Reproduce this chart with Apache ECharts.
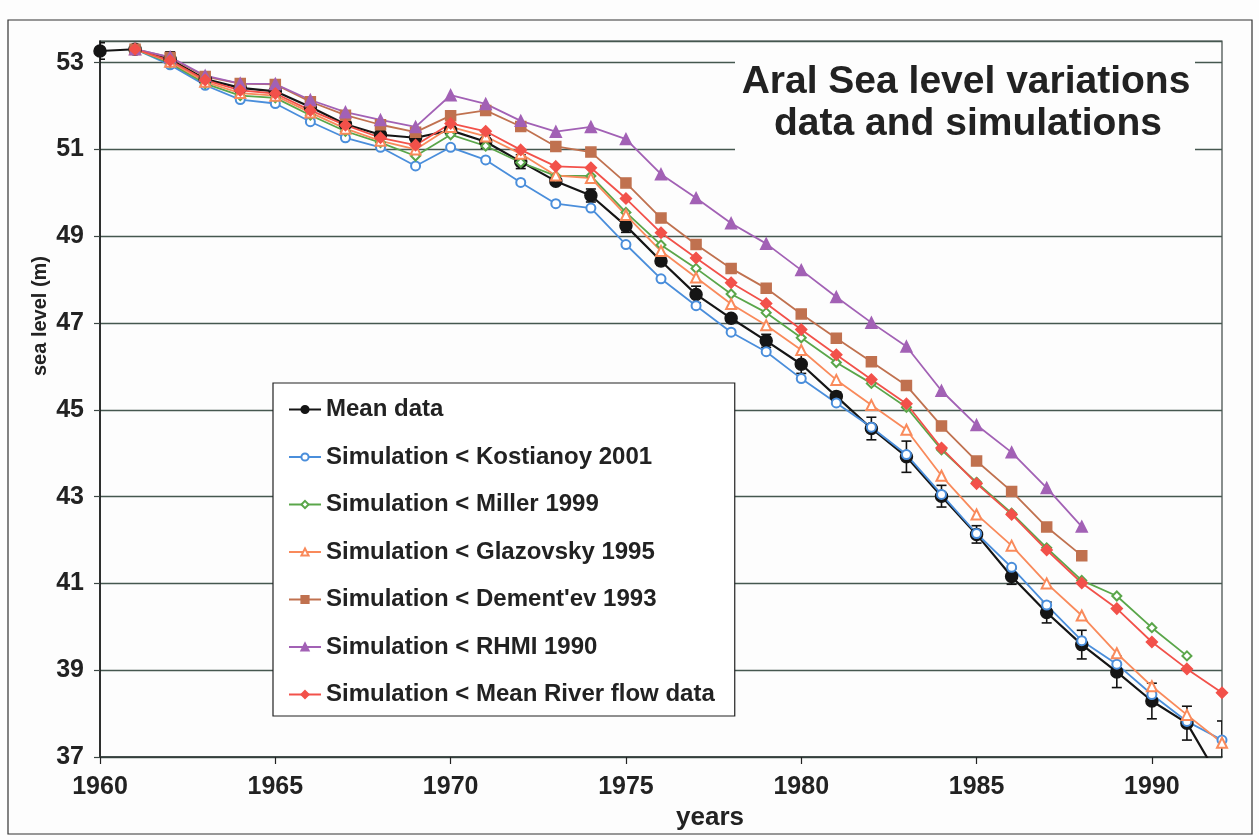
<!DOCTYPE html>
<html><head><meta charset="utf-8">
<script src="https://cdn.jsdelivr.net/npm/echarts@6/dist/echarts.min.js"></script>
<style>html,body{margin:0;padding:0;background:#fff}#c{width:1259px;height:840px}</style>
</head><body><div id="c"></div>
<script>
const years = [1960,1961,1962,1963,1964,1965,1966,1967,1968,1969,1970,1971,1972,1973,1974,1975,1976,1977,1978,1979,1980,1981,1982,1983,1984,1985,1986,1987,1988,1989,1990,1991,1992];
const meanData = [53.27,53.31,53.08,52.62,52.42,52.34,51.98,51.58,51.34,51.27,51.44,51.18,50.72,50.27,49.94,49.24,48.43,47.66,47.11,46.59,46.05,45.31,44.57,43.92,43.01,42.13,41.16,40.33,39.59,38.96,38.29,37.78,36.4];
const meanErr = [0.19,0.05,0.17,0.06,0.05,0.05,0.05,0.05,0.05,0.12,0.06,0.15,0.16,0.06,0.15,0.15,0.1,0.19,0.08,0.15,0.21,0.1,0.26,0.36,0.25,0.2,0.18,0.24,0.33,0.36,0.41,0.39,1.43];
const kostianoy = [null,53.31,52.95,52.48,52.15,52.06,51.64,51.27,51.05,50.62,51.05,50.76,50.24,49.75,49.65,48.81,48.02,47.4,46.79,46.34,45.72,45.16,44.6,43.97,43.05,42.15,41.37,40.5,39.68,39.14,38.44,37.82,37.39];
const miller = [null,53.31,52.99,52.52,52.24,52.19,51.79,51.42,51.16,50.85,51.34,51.08,50.7,50.39,50.39,49.55,48.8,48.26,47.67,47.24,46.66,46.09,45.61,45.06,44.08,43.33,42.62,41.82,41.07,40.71,39.98,39.33,null];
const glazovsky = [null,53.31,53.02,52.56,52.3,52.24,51.85,51.48,51.2,51.0,51.52,51.3,50.9,50.4,50.34,49.49,48.66,48.05,47.44,46.95,46.38,45.69,45.11,44.54,43.48,42.59,41.87,41.0,40.26,39.39,38.63,37.97,37.33];
const dementev = [null,53.31,53.12,52.68,52.52,52.5,52.1,51.79,51.57,51.4,51.78,51.9,51.53,51.07,50.94,50.23,49.42,48.81,48.26,47.8,47.21,46.65,46.11,45.56,44.63,43.82,43.12,42.3,41.64,null,null,null,null];
const rhmi = [null,53.31,53.13,52.7,52.52,52.51,52.14,51.86,51.68,51.52,52.25,52.05,51.66,51.41,51.52,51.24,50.43,49.88,49.3,48.83,48.22,47.6,47.01,46.46,45.44,44.65,44.02,43.2,42.31,null,null,null,null];
const riverFlow = [null,53.31,53.05,52.6,52.36,52.29,51.9,51.56,51.27,51.1,51.6,51.42,50.99,50.61,50.58,49.87,49.08,48.5,47.93,47.45,46.85,46.27,45.7,45.14,44.12,43.3,42.59,41.77,41.01,40.42,39.65,39.03,38.48];
const seriesNames = ['Mean data','Simulation < Kostianoy 2001','Simulation < Miller 1999','Simulation < Glazovsky 1995',"Simulation < Dement'ev 1993",'Simulation < RHMI 1990','Simulation < Mean River flow data'];
const titleLines = ['Aral Sea level variations','data and simulations'];
const xName = 'years';
const yName = 'sea level (m)';

function pairs(arr){ const out=[]; years.forEach((y,i)=>{ if(arr[i]!==null) out.push([y,arr[i]]); }); return out; }
const errData = years.map((y,i)=>[y, meanData[i]-meanErr[i], meanData[i]+meanErr[i]]);

const FONT = 'Liberation Sans, Arial, sans-serif';
const chart = echarts.init(document.getElementById('c'), null, {renderer:'canvas'});

function lineSeries(name, arr, color, symbol, size, width, extra){
  return Object.assign({
    name, type:'line', data:pairs(arr), symbol, symbolSize:size,
    lineStyle:{color, width}, itemStyle:{color, borderColor:color, borderWidth:1.5},
    emphasis:{disabled:true}, animation:false, clip:true
  }, extra||{});
}

const option = {
  backgroundColor:'#fdfdfd',
  animation:false,
  grid:{left:100, right:37, top:41, bottom:83, show:true, borderColor:'#3c4744', borderWidth:1.2, backgroundColor:'transparent'},
  xAxis:{type:'value', min:1960, max:1992, interval:5,
    axisLine:{show:true, onZero:false, lineStyle:{color:'#2f3a37', width:1.5}},
    axisTick:{show:true, length:7, lineStyle:{color:'#222', width:1.2}},
    axisLabel:{color:'#222', fontFamily:FONT, fontWeight:'bold', fontSize:25, margin:18, showMaxLabel:false,
      formatter:function(v){ return String(v); }},
    splitLine:{show:false}},
  yAxis:{type:'value', min:37, max:53.5, interval:2,
    axisLine:{show:true, onZero:false, lineStyle:{color:'#111', width:1.5}},
    axisTick:{show:true, length:6, lineStyle:{color:'#3c4744', width:1.2}},
    axisLabel:{color:'#222', fontFamily:FONT, fontWeight:'bold', fontSize:25, margin:16, showMaxLabel:false,
      formatter:function(v){ return String(v); }},
    splitLine:{show:true, lineStyle:{color:'#45574f', width:1.3}}},
  legend:{data:seriesNames, orient:'vertical', left:273, top:383,
    backgroundColor:'#ffffff', borderColor:'#222', borderWidth:1.2,
    padding:[14,20,9,15], itemGap:22.5, itemWidth:32, itemHeight:9,
    textStyle:{fontFamily:FONT, fontWeight:'bold', fontSize:24, lineHeight:25, color:'#222'},
    selectedMode:false},
  graphic:[
    {type:'rect', z:1, shape:{x:735, y:43, width:460, height:150}, style:{fill:'#fdfdfd'}},
    {type:'text', z:3, x:966, y:82, style:{text:titleLines[0], font:'bold 39px '+FONT, fill:'#222', textAlign:'center', textVerticalAlign:'middle'}},
    {type:'text', z:3, x:968, y:124, style:{text:titleLines[1], font:'bold 39px '+FONT, fill:'#222', textAlign:'center', textVerticalAlign:'middle'}},
    {type:'text', z:3, x:710, y:818, style:{text:xName, font:'bold 26px '+FONT, fill:'#222', textAlign:'center', textVerticalAlign:'middle'}},
    {type:'text', z:3, x:40, y:316, rotation:Math.PI/2, style:{text:yName, font:'bold 20px '+FONT, fill:'#222', textAlign:'center', textVerticalAlign:'middle'}},
    {type:'rect', z:0, shape:{x:8, y:20, width:1244, height:814}, style:{fill:'none', stroke:'#333', lineWidth:1.2}}
  ],
  series:[
    {type:'custom', name:'err', data:errData, clip:true, z:2, animation:false,
      encode:{x:0, y:[1,2]},
      renderItem:function(params, api){
        const x=api.value(0), lo=api.value(1), hi=api.value(2);
        const t=api.coord([x,hi]), b=api.coord([x,lo]); const w=5;
        const st={stroke:'#111', lineWidth:1.6};
        return {type:'group', children:[
          {type:'line', shape:{x1:t[0],y1:t[1],x2:b[0],y2:b[1]}, style:st},
          {type:'line', shape:{x1:t[0]-w,y1:t[1],x2:t[0]+w,y2:t[1]}, style:st},
          {type:'line', shape:{x1:b[0]-w,y1:b[1],x2:b[0]+w,y2:b[1]}, style:st}
        ]};
      }},
    lineSeries(seriesNames[0], meanData, '#151515', 'circle', 12, 2.2),
    lineSeries(seriesNames[1], kostianoy, '#4a8edb', 'emptyCircle', 9, 1.8),
    lineSeries(seriesNames[2], miller, '#5aa64a', 'emptyDiamond', 9, 1.8),
    lineSeries(seriesNames[3], glazovsky, '#f98a5b', 'emptyTriangle', 10, 1.8),
    lineSeries(seriesNames[4], dementev, '#c0714f', 'rect', 10, 1.8),
    lineSeries(seriesNames[5], rhmi, '#a261b5', 'triangle', 11, 1.8),
    lineSeries(seriesNames[6], riverFlow, '#f2514a', 'diamond', 11, 1.8)
  ]
};
chart.setOption(option);
</script></body></html>
